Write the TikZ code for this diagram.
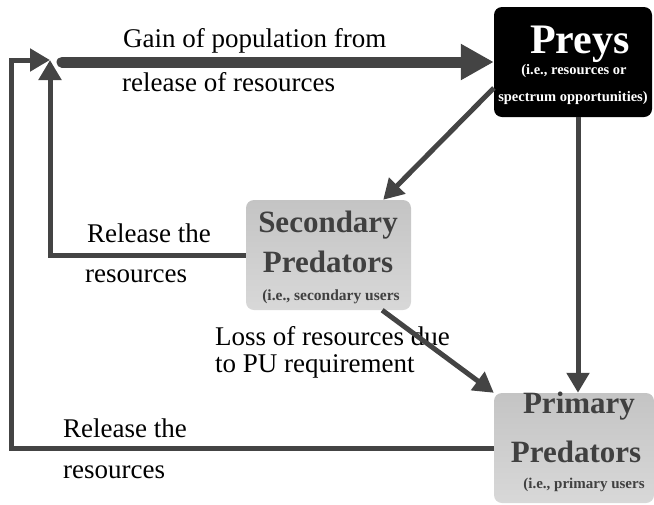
\documentclass[tikz,border=0pt]{standalone}
\usepackage{fontspec}
\setmainfont{Liberation Serif}
\usetikzlibrary{arrows.meta}
\definecolor{arrgray}{HTML}{444444}
\definecolor{txtgray}{HTML}{404040}
\definecolor{boxtop}{HTML}{C4C4C4}
\definecolor{boxbot}{HTML}{D8D8D8}
\tikzset{
  preybox/.style={fill=black, rounded corners=8pt, minimum width=158pt, minimum height=110pt, inner sep=0pt},
  predbox/.style={top color=boxtop, bottom color=boxbot, rounded corners=8pt, minimum height=110pt, inner sep=0pt},
  flow/.style={draw=arrgray, line width=5pt, -{Triangle[length=20pt,width=22pt]}},
  bigflow/.style={draw=arrgray, line width=11pt, line cap=round, -{Triangle[length=33pt,width=34pt]}},
  lbl/.style={anchor=base west, inner sep=0pt, font=\fontsize{27}{30}\selectfont},
  ttl/.style={anchor=base, inner sep=0pt, font=\bfseries\fontsize{31}{34}\selectfont, text=txtgray},
  sub/.style={anchor=base, inner sep=0pt, font=\bfseries\fontsize{15.5}{18}\selectfont, text=txtgray},
}

\begin{document}
\begin{tikzpicture}[x=1pt,y=-1pt]
    \useasboundingbox (0,0) rectangle (654,504);
    \node[preybox] (preys) at (573,62) {};
    \node[predbox, minimum width=165pt] (secondary) at (328.5,255) {};
    \node[predbox, minimum width=160pt] (primary) at (574,448) {};

    \node[ttl, text=white, font=\bfseries\fontsize{42}{44}\selectfont] (preysa) at (580,53) {Preys};
    \node[sub, text=white, font=\bfseries\fontsize{14.5}{17}\selectfont] (preysb) at (574,74) {(i.e., resources or};
    \node[sub, text=white, font=\bfseries\fontsize{14.5}{17}\selectfont] (preysc) at (573,101) {spectrum opportunities)};
    \node[ttl] (seca) at (328,232) {Secondary};
    \node[ttl] (secb) at (328,272) {Predators};
    \node[sub] (secc) at (331,300) {(i.e., secondary users};
    \node[ttl] (pria) at (579,413) {Primary};
    \node[ttl] (prib) at (576,462) {Predators};
    \node[sub, font=\bfseries\fontsize{15}{18}\selectfont] (pric) at (584,488) {(i.e., primary users};

    \node[lbl] (gain) at (123,47) {Gain of population from};
    \node[lbl] (gainb) at (122,91) {release of resources};
    \node[lbl] (relsec) at (87,242) {Release the};
    \node[lbl] (relsecb) at (85,282) {resources};
    \node[lbl] (relpri) at (63,437) {Release the};
    \node[lbl] (relprib) at (63,478) {resources};
    \node[lbl] (loss) at (215,345) {Loss of resources due};
    \node[lbl] (lossb) at (215,372) {to PU requirement};

    \coordinate (jn) at (50,60);
    \coordinate (start) at (62,62);
    \coordinate (outer) at (11,60);
    \draw[bigflow] (start) -- (preys.west);
    \draw[flow] ([yshift=-26pt]preys.west) -- ([xshift=-28pt]secondary.north east);
    \draw[flow] ([xshift=5pt]preys.south) -- ([xshift=4pt]primary.north);
    \draw[flow] ([xshift=-29pt]secondary.south east) -- (primary.north west);
    \draw[flow] (secondary.west) -| (jn);
    \draw[flow] (primary.west) -| (outer) -- (jn);
\end{tikzpicture}
\end{document}
